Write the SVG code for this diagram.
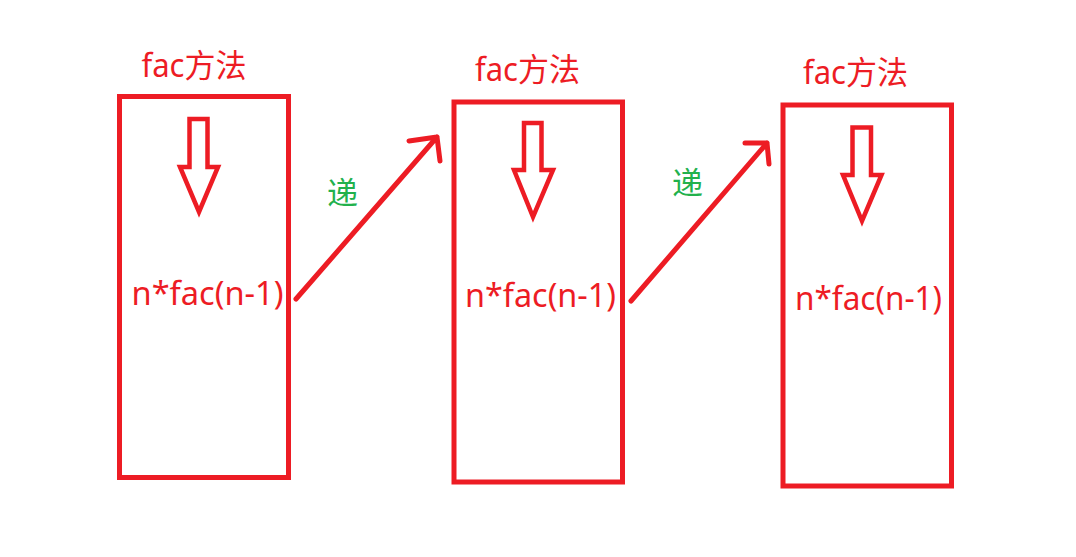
<svg xmlns="http://www.w3.org/2000/svg" width="1076" height="557" viewBox="0 0 1076 557">
<style>
.box{fill:none;stroke:#ED1C24;stroke-width:5}
.down{fill:none;stroke:#ED1C24;stroke-width:4.5;stroke-linejoin:miter}
.title{font-family:"Noto Sans","Noto Sans CJK SC",sans-serif;font-size:32px;fill:#ED1C24}
.expr{font-family:"Noto Sans","Noto Sans CJK SC",sans-serif;font-size:33px;fill:#ED1C24}
.lbl{font-family:"Noto Sans CJK SC",sans-serif;font-size:31px;fill:#22B14C}
.conn{fill:none;stroke:#ED1C24;stroke-width:5;stroke-linecap:round;stroke-linejoin:round}
</style>
<rect width="1076" height="557" fill="#fff"/>
<g id="node1">
<text class="title" x="141.5" y="77" textLength="105" lengthAdjust="spacingAndGlyphs">fac方法</text>
<rect class="box" x="119.5" y="96.5" width="169" height="381"/>
<polygon class="down" points="189.5,119 207.5,119 207.5,167 218,167 199,212 180,167 189.5,167"/>
<text class="expr" x="131.5" y="305" textLength="152" lengthAdjust="spacingAndGlyphs">n*fac(n-1)</text>
</g>
<g id="node2">
<text class="title" x="475" y="80.5" textLength="105" lengthAdjust="spacingAndGlyphs">fac方法</text>
<rect class="box" x="454" y="102" width="168.5" height="380"/>
<polygon class="down" points="524,123 541.5,123 541.5,170 553,170 533,217 514,170 524,170"/>
<text class="expr" x="465" y="307" textLength="151" lengthAdjust="spacingAndGlyphs">n*fac(n-1)</text>
</g>
<g id="node3">
<text class="title" x="803" y="84" textLength="105" lengthAdjust="spacingAndGlyphs">fac方法</text>
<rect class="box" x="783" y="105" width="168.5" height="381"/>
<polygon class="down" points="852.5,127.5 871,127.5 871,175 881.5,175 862,221 843,175 852.5,175"/>
<text class="expr" x="795" y="310" textLength="147" lengthAdjust="spacingAndGlyphs">n*fac(n-1)</text>
</g>
<g id="connectors">
<path class="conn" d="M296,299 L437,137 M409,141 L437,137 L440,161"/>
<path class="conn" d="M631,301 L767,143 M745,143 L767,143 L769,164"/>
<text class="lbl" x="327" y="204">递</text>
<text class="lbl" x="672" y="194">递</text>
</g>
</svg>
